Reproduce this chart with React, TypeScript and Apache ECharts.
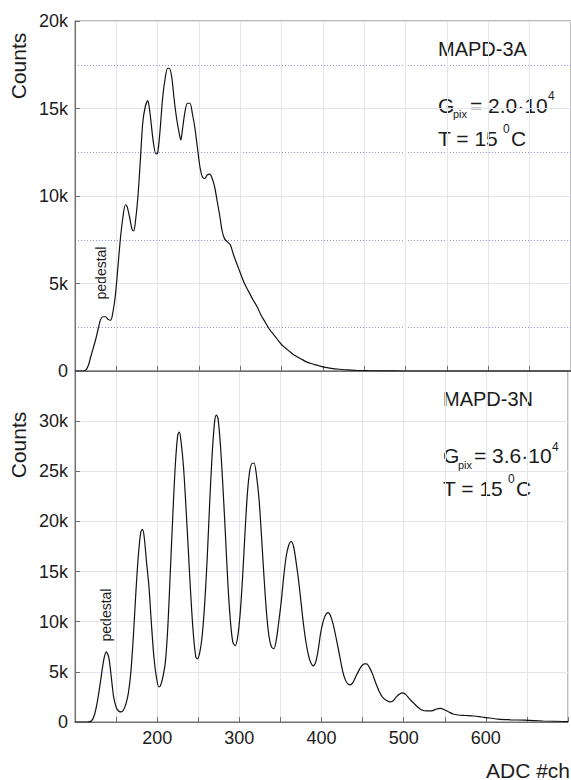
import React, { useEffect, useRef } from "react";
import * as echarts from "echarts";

// MAPD-3A spectrum (ADC channel, counts in thousands)
const topChannels = [100, 110, 113, 116, 119, 122, 125, 128, 131, 134, 137, 140, 143, 146, 149, 152, 155, 158, 161, 163, 166, 169, 171, 173, 176, 179, 182, 185, 188, 190, 192, 195, 198, 200, 203, 206, 209, 212, 214, 217, 220, 223, 226, 228, 230, 233, 236, 239, 242, 245, 248, 251, 254, 257, 260, 263, 266, 269, 272, 275, 278, 281, 285, 288, 292, 296, 300, 305, 310, 315, 320, 325, 330, 335, 340, 345, 350, 355, 360, 365, 370, 375, 380, 385, 390, 395, 400, 405, 410, 420, 430, 440, 455, 470, 500, 600, 700];
const topCounts = [0, 0, 0.05, 0.3, 0.8, 1.3, 1.8, 2.4, 2.95, 3.1, 3.1, 2.95, 2.9, 3.4, 4.4, 6.0, 7.6, 8.8, 9.5, 9.4, 8.8, 8.1, 8.0, 8.5, 9.9, 12.0, 14.2, 15.1, 15.45, 15.0, 14.2, 13.0, 12.4, 12.45, 13.8, 15.6, 16.7, 17.3, 17.3, 16.8, 15.5, 14.4, 13.6, 13.2, 13.8, 14.8, 15.3, 15.3, 14.7, 13.9, 12.8, 11.7, 11.1, 11.0, 11.2, 11.25, 11.0, 10.5, 9.7, 8.9, 8.0, 7.55, 7.35, 7.2, 6.6, 6.1, 5.6, 5.0, 4.55, 4.1, 3.7, 3.2, 2.8, 2.4, 2.1, 1.8, 1.5, 1.3, 1.1, 0.92, 0.78, 0.65, 0.52, 0.44, 0.36, 0.3, 0.24, 0.19, 0.15, 0.1, 0.06, 0.04, 0.02, 0.01, 0, 0, 0];

// MAPD-3N spectrum (ADC channel, counts in thousands)
const bottomChannels = [100, 115, 120, 124, 128, 132, 135, 138, 141, 144, 147, 150, 153, 156, 159, 162, 165, 168, 171, 174, 177, 180, 182, 184, 187, 190, 193, 196, 199, 202, 204, 207, 210, 213, 216, 219, 222, 225, 227, 229, 232, 235, 238, 241, 244, 247, 249, 252, 255, 258, 261, 264, 267, 270, 272, 274, 277, 280, 283, 286, 289, 292, 295, 298, 301, 304, 307, 310, 313, 316, 318, 321, 324, 327, 330, 333, 336, 339, 342, 345, 348, 351, 354, 357, 360, 363, 366, 369, 372, 375, 378, 381, 384, 387, 390, 393, 396, 399, 402, 405, 408, 411, 414, 417, 420, 423, 426, 429, 432, 435, 438, 441, 444, 448, 452, 455, 458, 462, 466, 470, 474, 478, 483, 487, 491, 495, 499, 503, 507, 512, 517, 522, 528, 534, 540, 545, 550, 555, 560, 566, 575, 585, 595, 605, 615, 630, 647, 670, 695, 700];
const bottomCounts = [0, 0, 0.1, 0.8, 2.4, 4.6, 6.2, 7.0, 6.5, 4.6, 2.5, 1.5, 1.1, 1.0, 1.2, 1.8, 2.9, 5.0, 8.5, 12.8, 16.5, 18.9, 19.2, 18.6, 16.0, 13.5, 9.8, 6.5, 4.5, 3.5, 3.6, 4.5, 6.0, 9.5, 15.0, 20.5, 25.5, 28.6, 28.9, 28.0, 25.5, 21.5, 17.0, 12.5, 8.8, 6.5, 6.3, 7.0, 8.8, 12.0, 16.5, 22.0, 26.8, 30.0, 30.6, 30.3, 27.6, 23.5, 18.8, 13.9, 10.2, 8.0, 7.6, 8.5, 10.8, 14.5, 19.0, 23.0, 25.2, 25.8, 25.8, 24.5, 22.2, 18.5, 14.5, 11.0, 8.6, 7.5, 7.3, 8.2, 10.0, 12.0, 14.5, 16.5, 17.6, 18.0, 17.5, 16.0, 14.2, 12.0, 9.8, 8.0, 6.7, 5.9, 5.6, 6.0, 7.2, 8.9, 10.0, 10.7, 10.9, 10.6, 9.8, 8.7, 7.5, 6.2, 5.0, 4.2, 3.8, 3.7, 3.9, 4.4, 4.9, 5.5, 5.8, 5.8, 5.5, 4.8, 3.9, 3.1, 2.5, 2.2, 2.0, 2.1, 2.5, 2.8, 2.9, 2.7, 2.3, 1.9, 1.5, 1.2, 1.1, 1.1, 1.3, 1.35, 1.2, 1.0, 0.8, 0.7, 0.65, 0.6, 0.5, 0.4, 0.28, 0.22, 0.18, 0.1, 0.05, 0.04];

const xMin = 100;
const xMax = 700;
const xStep = 50;
const topYMax = 20;
const bottomYMax = 35;
const yStep = 5;

const FONT = "'Liberation Sans', Arial, sans-serif";
const INK = "#1c1c1c";

export default function App() {
  const ref = useRef<HTMLDivElement>(null);

  useEffect(() => {
    document.body.style.margin = "0";
    if (!ref.current) return;
    const chart = echarts.init(ref.current, undefined, { renderer: "svg" });

    const xAxisBase = (gridIndex: number, showLabels: boolean) => ({
      type: "value",
      gridIndex,
      min: xMin,
      max: xMax,
      interval: xStep,
      axisLine: { show: true, lineStyle: { color: "#6f6f6f", width: 1 } },
      axisTick: { show: true, inside: true, length: 5, lineStyle: { color: "#6f6f6f" } },
      axisLabel: {
        show: showLabels,
        fontSize: 18,
        fontFamily: FONT,
        color: INK,
        margin: 7,
        formatter: (v: number) => (v % 100 === 0 && v > xMin && v < xMax ? String(v) : ""),
      },
      splitLine: { show: true, lineStyle: { color: "#e2e5ee", width: 1 } },
    });

    const yLabel = (max: number) => ({
      fontSize: 18,
      fontFamily: FONT,
      color: INK,
      margin: 7,
      formatter: (v: number) => (v === 0 ? "0" : v >= max && max !== topYMax ? "" : `${v}k`),
    });

    const txt = (text: string, x: number, y: number, size: number, extra: any = {}) => ({
      type: "text",
      x,
      y,
      rotation: extra.rotation || 0,
      style: {
        text,
        fontSize: size,
        fontFamily: FONT,
        fill: INK,
        textAlign: extra.align || "left",
        textVerticalAlign: "middle",
      },
    });

    chart.setOption({
      animation: false,
      backgroundColor: "#ffffff",
      grid: [
        { left: 75, right: 0, top: 21, height: 350, show: true, borderColor: "#7a7a7a", borderWidth: 1, backgroundColor: "transparent" },
        { left: 75, right: 0, top: 371, height: 351, show: true, borderColor: "#7a7a7a", borderWidth: 1, backgroundColor: "transparent" },
      ],
      xAxis: [xAxisBase(0, false), xAxisBase(1, true)],
      yAxis: [
        {
          type: "value",
          gridIndex: 0,
          min: 0,
          max: topYMax,
          interval: yStep,
          axisLine: { show: true, lineStyle: { color: "#6f6f6f" } },
          axisTick: { show: true, inside: true, length: 5, lineStyle: { color: "#6f6f6f" } },
          axisLabel: yLabel(topYMax),
          splitLine: { show: true, lineStyle: { color: "#e2e5ee" } },
          minorTick: { show: false, splitNumber: 2 },
          minorSplitLine: { show: true, lineStyle: { color: "#8e93d6", type: [1, 2], width: 1 } },
        },
        {
          type: "value",
          gridIndex: 1,
          min: 0,
          max: bottomYMax,
          interval: yStep,
          axisLine: { show: true, lineStyle: { color: "#6f6f6f" } },
          axisTick: { show: true, inside: true, length: 5, lineStyle: { color: "#6f6f6f" } },
          axisLabel: yLabel(bottomYMax),
          splitLine: { show: true, lineStyle: { color: "#e2e5ee" } },
        },
      ],
      series: [
        {
          type: "line",
          name: "MAPD-3A",
          xAxisIndex: 0,
          yAxisIndex: 0,
          data: topChannels.map((c, i) => [c, topCounts[i]]),
          showSymbol: false,
          smooth: 0.3,
          lineStyle: { color: "#111", width: 1.2 },
        },
        {
          type: "line",
          name: "MAPD-3N",
          xAxisIndex: 1,
          yAxisIndex: 1,
          data: bottomChannels.map((c, i) => [c, bottomCounts[i]]),
          showSymbol: false,
          smooth: 0.3,
          lineStyle: { color: "#111", width: 1.2 },
        },
      ],
      graphic: [
        txt("Counts", 18, 66, 21, { rotation: Math.PI / 2, align: "center" }),
        txt("Counts", 18, 445, 21, { rotation: Math.PI / 2, align: "center" }),
        txt("ADC #ch", 570, 770, 21, { align: "right" }),
        txt("pedestal", 101, 273, 14, { rotation: Math.PI / 2, align: "center" }),
        txt("pedestal", 106, 615, 14, { rotation: Math.PI / 2, align: "center" }),
        // top annotations
        txt("MAPD-3A", 438, 49, 20),
        txt("G", 438, 105, 21),
        txt("pix", 453, 114, 11),
        txt("= 2.0·10", 470, 105, 21),
        txt("4", 548, 96, 12),
        txt("T = 15", 438, 138, 21),
        txt("0", 503, 129, 12),
        txt("C", 511, 138, 21),
        // bottom annotations
        txt("MAPD-3N", 443, 399, 20),
        txt("G", 443, 455, 21),
        txt("pix", 458, 465, 11),
        txt("= 3.6·10", 474, 455, 21),
        txt("4", 552, 447, 12),
        txt("T = 15", 443, 488, 21),
        txt("0", 508, 479, 12),
        txt("C", 516, 488, 21),
      ],
    });

    return () => chart.dispose();
  }, []);

  return <div ref={ref} style={{ width: 571, height: 780 }} />;
}
